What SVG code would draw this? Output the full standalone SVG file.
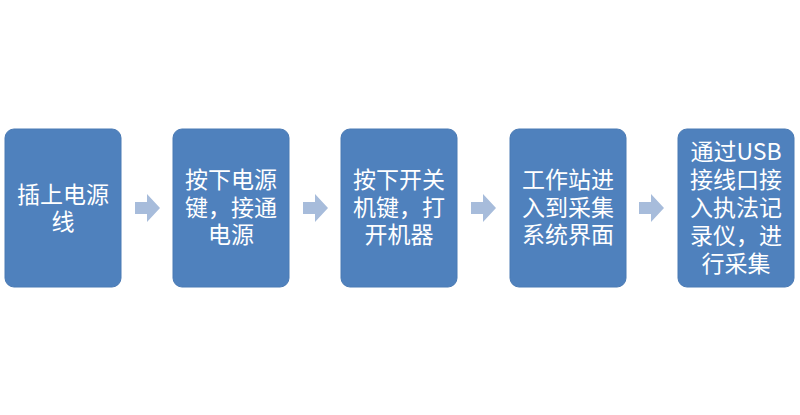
<svg xmlns="http://www.w3.org/2000/svg" width="800" height="415" viewBox="0 0 800 415">
<style>
.box{fill:#4F81BD;stroke:#4A7AB4;stroke-width:1}
.t{font-family:"Noto Sans CJK SC","Noto Sans",sans-serif;font-size:23px;fill:#FFFFFF;text-anchor:middle}
.arr{fill:#A7BCDB}
</style>
<rect width="800" height="415" fill="#FFFFFF"/>
<g id="connectors">
<path class="arr" d="M135,202 H147 V194 L160,208 L147,222 V214 H135 Z"/>
<path class="arr" d="M303,202 H315 V194 L328,208 L315,222 V214 H303 Z"/>
<path class="arr" d="M471,202 H483 V194 L496,208 L483,222 V214 H471 Z"/>
<path class="arr" d="M639,202 H651 V194 L664,208 L651,222 V214 H639 Z"/>
</g>
<g id="node1">
<rect class="box" x="5" y="129" width="116" height="158" rx="9"/>
<text class="t" x="63" y="203">插上电源</text>
<text class="t" x="63" y="230">线</text>
</g>
<g id="node2">
<rect class="box" x="173" y="129" width="116" height="158" rx="9"/>
<text class="t" x="231" y="188">按下电源</text>
<text class="t" x="231" y="216">键，接通</text>
<text class="t" x="231" y="243">电源</text>
</g>
<g id="node3">
<rect class="box" x="341" y="129" width="116" height="158" rx="9"/>
<text class="t" x="399" y="188">按下开关</text>
<text class="t" x="399" y="216">机键，打</text>
<text class="t" x="399" y="243">开机器</text>
</g>
<g id="node4">
<rect class="box" x="510" y="129" width="116" height="158" rx="9"/>
<text class="t" x="568" y="188">工作站进</text>
<text class="t" x="568" y="216">入到采集</text>
<text class="t" x="568" y="243">系统界面</text>
</g>
<g id="node5">
<rect class="box" x="678" y="129" width="116" height="158" rx="9"/>
<text class="t" x="736" y="160">通过USB</text>
<text class="t" x="736" y="188">接线口接</text>
<text class="t" x="736" y="216">入执法记</text>
<text class="t" x="736" y="244">录仪，进</text>
<text class="t" x="736" y="272">行采集</text>
</g>
</svg>
